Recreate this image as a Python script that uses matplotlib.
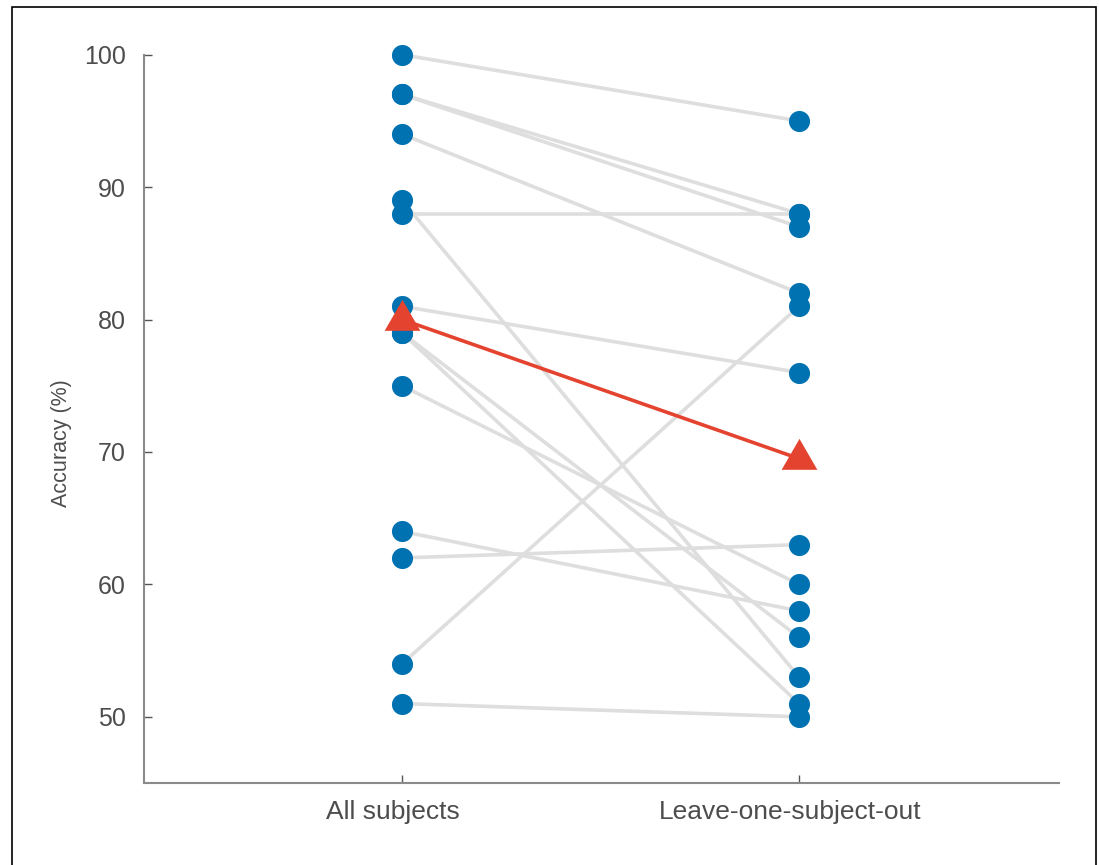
import numpy as np
import matplotlib
matplotlib.use("Agg")
import matplotlib.pyplot as plt
from matplotlib.patches import Rectangle
from matplotlib.transforms import ScaledTranslation

# ---- data ----
conditions = ["All subjects", "Leave-one-subject-out"]
acc_all = [100, 97, 97, 94, 89, 88, 81, 79, 79, 75, 64, 62, 54, 51]
acc_loso = [95, 88, 87, 82, 53, 88, 76, 56, 51, 60, 58, 63, 81, 50]
yticks = [50, 60, 70, 80, 90, 100]

# ---- style ----
plt.rcParams['font.family'] = ['Liberation Sans', 'DejaVu Sans']
blue = '#0072B2'
red = '#E4442F'
gray_line = '#DEDEDE'
text_col = '#4D4D4D'

W, H = 1099, 865
fig = plt.figure(figsize=(W / 100, H / 100), dpi=100)
ax = fig.add_axes([144 / W, 82 / H, (1059 - 144) / W, (850 - 82) / H])

x = np.arange(len(conditions))
a = np.array(acc_all, dtype=float)
b = np.array(acc_loso, dtype=float)

for va, vb in zip(a, b):
    ax.plot(x, [va, vb], color=gray_line, lw=2.6, zorder=1, solid_capstyle='butt')

ax.plot(np.full(len(a), x[0]), a, 'o', ms=15.2, color=blue, mec='none', zorder=3, clip_on=False)
ax.plot(np.full(len(b), x[1]), b, 'o', ms=15.2, color=blue, mec='none', zorder=3, clip_on=False)

med = [np.median(a), np.median(b)]
ax.plot(x, med, color=red, lw=2.6, zorder=4)
ax.plot(x, med, marker=(3, 0, 0), ms=29.7, color=red, mec='none', ls='none', zorder=5, clip_on=False)

ax.set_xlim(-0.65, 1.655)
ax.set_ylim(45, 103)
ax.set_xticks(x)
ax.set_xticklabels(conditions)
ax.set_yticks(yticks)
ax.set_yticklabels([str(t) for t in yticks])

for s in ['top', 'right']:
    ax.spines[s].set_visible(False)
for s in ['left', 'bottom']:
    ax.spines[s].set_color('#8a8a8a')
    ax.spines[s].set_linewidth(1.5)
ax.spines['left'].set_bounds(45, 100)

ax.tick_params(axis='both', direction='in', length=5.5, width=1, color='#555555',
               labelcolor=text_col)
ax.tick_params(axis='y', pad=13, labelsize=18)
ax.tick_params(axis='x', pad=12, labelsize=19)

shift = ScaledTranslation(-9 / 100, 0, fig.dpi_scale_trans)
for lbl in ax.get_xticklabels():
    lbl.set_transform(lbl.get_transform() + shift)

ax.set_ylabel("Accuracy (%)", fontsize=15.5, color=text_col)
ax.yaxis.set_label_coords(-0.079, 0.442)

# figure border
fig.patches.append(Rectangle((11.5 / W, -0.02), (1096 - 11.5) / W, 0.02 + 1 - 7 / H,
                             transform=fig.transFigure, fill=False, edgecolor='black',
                             linewidth=1.2, clip_on=False))

fig.savefig("out.png", dpi=100)
